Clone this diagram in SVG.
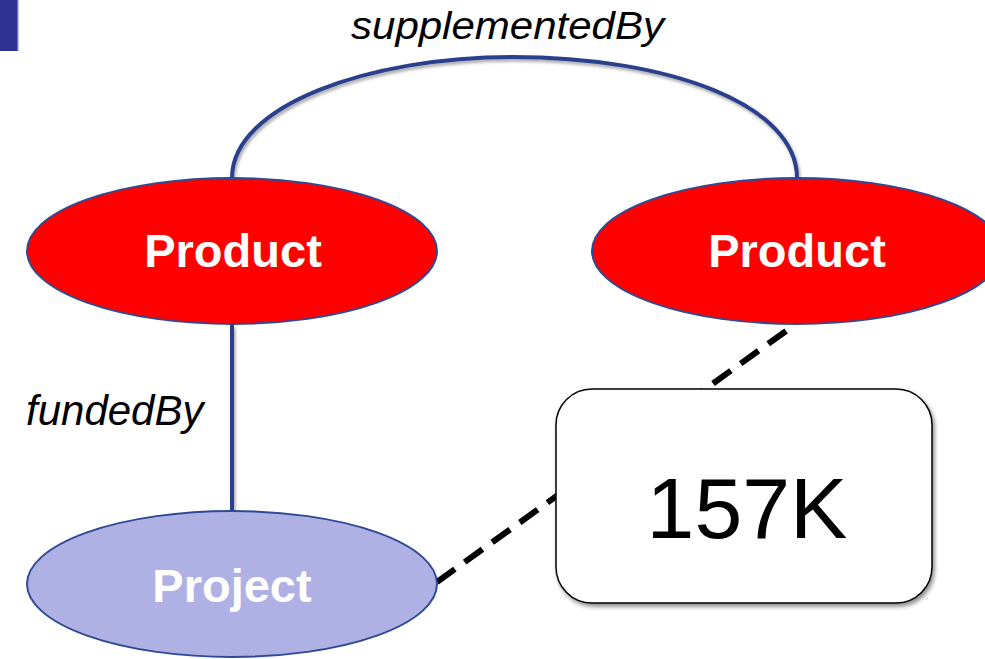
<svg xmlns="http://www.w3.org/2000/svg" width="985" height="659" viewBox="0 0 985 659">
  <defs>
    <filter id="sh" filterUnits="userSpaceOnUse" x="0" y="0" width="985" height="659">
      <feDropShadow dx="1.5" dy="2.5" stdDeviation="1.5" flood-color="#000" flood-opacity="0.35"/>
    </filter>
    <filter id="boxsh" x="-10%" y="-10%" width="125%" height="125%">
      <feDropShadow dx="2" dy="3" stdDeviation="2" flood-color="#000" flood-opacity="0.45"/>
    </filter>
  </defs>
  <style>
    .rel { fill: none; stroke: #2b3f8c; stroke-width: 4; }
    .dash { fill: none; stroke: #000; stroke-width: 6; stroke-dasharray: 22 12; }
    .prod { fill: #ff0000; stroke: #2e4a94; stroke-width: 2; }
    .proj { fill: #afb0e4; stroke: #2e4a94; stroke-width: 2; }
    .nlabel { font-family: "Liberation Sans", Arial, sans-serif; font-weight: bold; font-size: 47px; fill: #fff; text-anchor: middle; }
    .elabel { font-family: "Liberation Sans", Arial, sans-serif; font-style: italic; fill: #000; }
  </style>
  <rect x="0" y="0" width="18" height="51" fill="#2e3192"/>
  <rect x="17" y="0" width="1.5" height="51" fill="#7478c8"/>
  <g id="connectors">
    <path class="rel" filter="url(#sh)" d="M232,178 C232,105 370,57 512,57 C670,57 797,105 797,178"/>
    <path class="rel" filter="url(#sh)" d="M232,325 L232,511"/>
    <line class="dash" x1="437" y1="582" x2="793" y2="326"/>
    <text class="elabel" x="351" y="39" font-size="39" textLength="313" lengthAdjust="spacingAndGlyphs">supplementedBy</text>
    <text class="elabel" x="26" y="425" font-size="42">fundedBy</text>
  </g>
  <g id="product1">
    <ellipse class="prod" cx="232" cy="251" rx="205" ry="73"/>
    <text class="nlabel" x="233" y="267">Product</text>
  </g>
  <g id="product2">
    <ellipse class="prod" cx="797" cy="251" rx="205" ry="73"/>
    <text class="nlabel" x="797" y="267">Product</text>
  </g>
  <g id="project">
    <ellipse class="proj" cx="232" cy="584" rx="205" ry="73"/>
    <text class="nlabel" x="232" y="602">Project</text>
  </g>
  <g id="count">
    <rect x="556" y="389" width="376" height="214" rx="36" ry="36" fill="#fff" stroke="#000" stroke-width="1.5" filter="url(#boxsh)"/>
    <text x="747" y="538" font-family="'Liberation Sans', Arial, sans-serif" font-size="86" fill="#000" text-anchor="middle">157K</text>
  </g>
</svg>
